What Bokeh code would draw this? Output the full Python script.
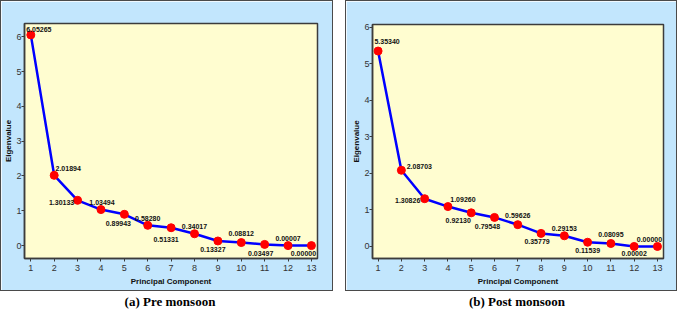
from bokeh.plotting import figure
from bokeh.layouts import row, column
from bokeh.models import ColumnDataSource, FixedTicker, LabelSet, Range1d
from bokeh.core.properties import value
from bokeh.embed import file_html
from bokeh.resources import INLINE

# ---- data ----
components = [1, 2, 3, 4, 5, 6, 7, 8, 9, 10, 11, 12, 13]
pre_eigen = [6.05265, 2.01894, 1.30133, 1.03494, 0.89943, 0.58280, 0.51331,
             0.34017, 0.13327, 0.08812, 0.03497, 0.00007, 0.00000]
post_eigen = [5.35340, 2.08703, 1.30826, 1.09260, 0.92130, 0.79548, 0.59626,
              0.35779, 0.29153, 0.11539, 0.08095, 0.00002, 0.00000]
pre_labels = ["6.05265", "2.01894", "1.30133", "1.03494", "0.89943", "0.58280", "0.51331",
              "0.34017", "0.13327", "0.08812", "0.03497", "0.00007", "0.00000"]
post_labels = ["5.35340", "2.08703", "1.30826", "1.09260", "0.92130", "0.79548", "0.59626",
               "0.35779", "0.29153", "0.11539", "0.08095", "0.00002", "0.00000"]
captions = ["(a) Pre monsoon", "(b) Post monsoon"]

# ---- label placement (screen px offsets, layout only) ----
pre_dx = [8, 14, -16, 1, -6, 0, -5, 0, -5, 0, -4, 0, -8]
pre_dy = [-5, -7, 2, -7, 9, -7, 12, -7, 9, -9, 9, -7, 8]
post_dx = [9, 18, -17, 15, -13, -7, 0, -4, 0, 0, 0, 0, -8]
post_dy = [-10, -4, 2, -7, 8, 9, -9, 8, -7, 8, -9, 7, -7]

BLUE_BG = "#C2E6FD"
YELLOW = "#FFFDD0"
FRAME = "#3C3C3C"


def panel(vals, labels, dx, dy, width, height, borders, xr, yr):
    p = figure(width=width, height=height, output_backend="svg", toolbar_location=None,
               x_range=xr, y_range=yr,
               min_border_left=borders[0], min_border_right=borders[1],
               min_border_top=borders[2], min_border_bottom=borders[3],
               background_fill_color=YELLOW, border_fill_color=BLUE_BG,
               styles={"border": "1px solid #4a4a4a", "box-sizing": "border-box"})
    p.outline_line_color = FRAME
    p.outline_line_width = 1.5
    p.grid.visible = False
    src = ColumnDataSource(dict(x=components, y=vals, t=labels,
                                dx=dx, dy=[-d for d in dy]))
    p.line("x", "y", source=src, line_color="#0000FF", line_width=2.5)
    p.scatter("x", "y", source=src, size=8, fill_color="#FF0000", line_color="#FF0000")
    lbl = LabelSet(x="x", y="y", text="t", source=src, x_offset="dx", y_offset="dy",
                   text_align="center", text_baseline="middle",
                   text_font=value("Liberation Sans"), text_font_size=value("7px"),
                   text_font_style=value("bold"), text_color=value("#111111"))
    p.add_layout(lbl)
    p.xaxis.ticker = FixedTicker(ticks=components)
    p.yaxis.ticker = FixedTicker(ticks=[0, 1, 2, 3, 4, 5, 6])
    for ax in (p.xaxis[0], p.yaxis[0]):
        ax.axis_line_color = FRAME
        ax.axis_line_width = 1.5
        ax.major_tick_line_color = FRAME
        ax.major_tick_in = 0
        ax.major_tick_out = 3
        ax.minor_tick_line_color = None
        ax.major_label_text_font = "Liberation Sans"
        ax.major_label_text_font_size = "9px"
        ax.major_label_text_color = "#333333"
        ax.axis_label_text_font = "Liberation Sans"
        ax.axis_label_text_font_size = "8px"
        ax.axis_label_text_font_style = "bold"
        ax.axis_label_text_color = "#111111"
    p.xaxis.axis_label = "Principal Component"
    p.yaxis.axis_label = "Eigenvalue"
    p.xaxis.major_label_standoff = 3
    p.yaxis.major_label_standoff = 0
    p.xaxis.axis_label_standoff = 3
    p.yaxis.axis_label_standoff = 0
    return p


def caption(txt, width):
    c = figure(width=width, height=19, output_backend="svg", toolbar_location=None,
               x_range=(0, 1), y_range=(0, 1), min_border=0,
               background_fill_color="white", border_fill_color="white")
    c.outline_line_color = None
    c.axis.visible = False
    c.grid.visible = False
    c.text(x=[0.5], y=[0.5], text=[txt], text_align="center", text_baseline="middle",
           text_font=value("Liberation Serif"), text_font_size="13px",
           text_font_style="bold", text_color="#000000")
    return c


pa = panel(pre_eigen, pre_labels, pre_dx, pre_dy, 333, 291, (23, 17, 22, 34),
           Range1d(0.73, 13.26), Range1d(-0.37, 6.38))
pb = panel(post_eigen, post_labels, post_dx, post_dy, 332, 291, (26, 15, 23, 34),
           Range1d(0.76, 13.26), Range1d(-0.33, 6.08))

ca = caption(captions[0], 333)
cb = caption(captions[1], 332)

layout = row(column(pa, ca, spacing=0), column(pb, cb, spacing=0), spacing=12)

open("out.html", "w").write(file_html(layout, INLINE))
